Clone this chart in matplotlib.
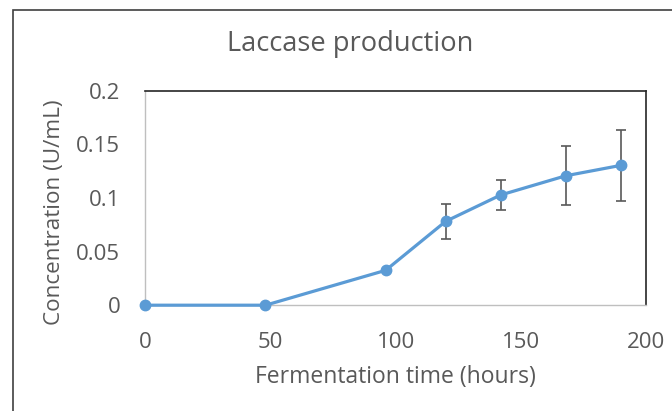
import matplotlib.pyplot as plt
from matplotlib.patches import Rectangle

# Laccase production over fermentation time
hours = [0, 48, 96, 120, 142, 168, 190]
conc = [0.0, 0.0, 0.0325, 0.0782, 0.1028, 0.1207, 0.1304]
err = [0.0, 0.0, 0.0, 0.0166, 0.0141, 0.0275, 0.0334]
xticks = [0, 50, 100, 150, 200]
yticks = [0, 0.05, 0.1, 0.15, 0.2]
ytick_labels = ['0', '0.05', '0.1', '0.15', '0.2']

plt.rcParams['font.family'] = ['Open Sans', 'DejaVu Sans']

fig = plt.figure(figsize=(6.72, 4.11), dpi=100)
ax = fig.add_axes([145.3 / 672, 1 - 305.2 / 411, 500.7 / 672, 214.5 / 411])

# chart border (runs off the right/bottom of the image)
fig.patches.append(Rectangle((13 / 672, -0.1), 1.0, 1 - 10 / 411 + 0.1,
                             transform=fig.transFigure, fill=False,
                             edgecolor='#404040', linewidth=1.2))

ax.errorbar(hours, conc, yerr=err, fmt='none', ecolor='#595959',
            elinewidth=1.2, capsize=3.5, capthick=1.2, zorder=2)
ax.plot(hours, conc, color='#5B9BD5', linewidth=2.3, marker='o',
        markersize=7.5, zorder=3, clip_on=False)

ax.set_xlim(0, 200)
ax.set_ylim(0, 0.2)
ax.set_xticks(xticks)
ax.set_yticks(yticks)
ax.set_yticklabels(ytick_labels)
ax.tick_params(length=0, labelsize=16, labelcolor='#595959')
ax.tick_params(axis='x', pad=19)
ax.tick_params(axis='y', pad=18)

for s in ['left', 'bottom']:
    ax.spines[s].set_color('#BFBFBF')
    ax.spines[s].set_linewidth(1.0)
for s in ['top', 'right']:
    ax.spines[s].set_color('#262626')
    ax.spines[s].set_linewidth(1.2)

fig.text(350 / 672, 1 - 44 / 411, 'Laccase production', ha='center',
         va='center', fontsize=19.6, color='#595959')
fig.text(395 / 672, 1 - 377 / 411, 'Fermentation time (hours)', ha='center',
         va='center', fontsize=16.5, color='#595959')
fig.text(55 / 672, 1 - 212.5 / 411, 'Concentration (U/mL)', ha='center',
         va='center', rotation=90, fontsize=16.2, color='#595959')

fig.savefig('out.png', dpi=100)
